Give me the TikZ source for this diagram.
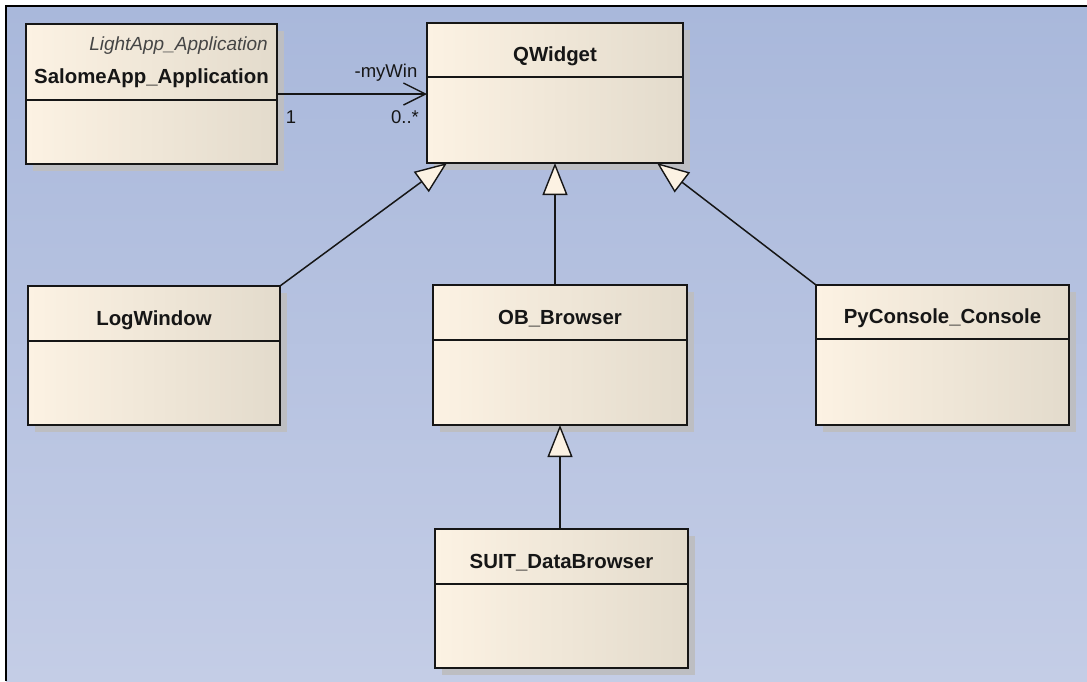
\documentclass[tikz,border=0pt]{standalone}
\usepackage{fontspec}
\setmainfont{Liberation Sans}
\usetikzlibrary{arrows.meta}

\definecolor{bgtop}{HTML}{A9B8DB}
\definecolor{bgbot}{HTML}{C4CDE6}
\definecolor{creamL}{HTML}{FCF2E3}
\definecolor{creamM}{HTML}{F7EEDF}
\definecolor{creamR}{HTML}{E3DBCC}
\definecolor{shadowgray}{HTML}{BDBEC2}
\definecolor{inkcol}{HTML}{161616}

\tikzset{
  classbox/.style={draw=inkcol, line width=1.6pt, left color=creamL,
    middle color=creamM, right color=creamR, inner sep=0pt, outer sep=0pt,
    anchor=north west},
  classtitle/.style={font=\fontsize{20.4}{24}\selectfont\bfseries,
    text=inkcol, inner sep=0pt, anchor=base},
  stereo/.style={font=\fontsize{19}{22}\selectfont\itshape,
    text=inkcol!80, inner sep=0pt, anchor=base east},
  rolelabel/.style={font=\fontsize{18.5}{22}\selectfont, text=inkcol,
    inner sep=0pt, anchor=base},
  generalization/.style={draw=inkcol, line width=1.5pt,
    -{Triangle[length=32pt, width=25pt, fill=creamL, line width=1.4pt]}},
  association/.style={draw=inkcol, line width=1.5pt,
    -{Straight Barb[length=22pt, width=22pt, line width=1.4pt]}}
}

% #1 name, #2 left, #3 top, #4 right, #5 bottom, #6 divider, #7 class name
\newcommand\umlclass[7]{%
  \fill[shadowgray] (#2+7,#3+7) rectangle (#4+7,#5+7);
  \node[classbox, minimum width={(#4-#2)*1pt}, minimum height={(#5-#3)*1pt}]
    (#1) at (#2,#3) {};
  \draw[draw=inkcol, line width=1.6pt] (#2,#6) -- (#4,#6);
  \node[classtitle] (#1-title) at ({(#2+#4)/2},{(#3+#6)/2+11.5}) {#7};
}

\begin{document}
\begin{tikzpicture}[x=1pt, y=-1pt]
  % canvas
  \useasboundingbox (0,0) rectangle (1087,681);
  \fill[white] (0,0) rectangle (1087,681);
  \shade[top color=bgtop, bottom color=bgbot] (6,6) rectangle (1087,681);
  \draw[black, line width=2.6pt] (6,681) -- (6,6) -- (1087,6);

  % classes
  \umlclass{sa}{26}{24}{277}{164}{100}{}
  \node[classtitle] (sa-name) at (151.5,83) {SalomeApp\_Application};
  \node[stereo] (sa-stereo) at (268,50) {LightApp\_Application};

  \umlclass{qw}{427}{23}{683}{163}{77}{QWidget}
  \umlclass{lw}{28}{286}{280}{425}{341}{LogWindow}
  \umlclass{ob}{433}{285}{687}{425}{340}{OB\_Browser}
  \umlclass{pc}{816}{285}{1069}{425}{339}{PyConsole\_Console}
  \umlclass{sd}{435}{529}{688}{668}{584}{SUIT\_DataBrowser}

  % association
  \draw[association] (sa.east) -- (sa.east -| qw.west);
  \node[rolelabel] (role) at (386,77) {-myWin};
  \node[rolelabel] (mult1) at (291,123) {1};
  \node[rolelabel] (mult2) at (405,123) {0..*};

  % generalizations
  \draw[generalization] (lw.north east) -- ([xshift=20pt]qw.south west);
  \draw[generalization] (qw.south |- ob.north) -- (qw.south);
  \draw[generalization] (pc.north west) -- ([xshift=-26pt]qw.south east);
  \draw[generalization] (ob.south |- sd.north) -- (ob.south);
\end{tikzpicture}
\end{document}
